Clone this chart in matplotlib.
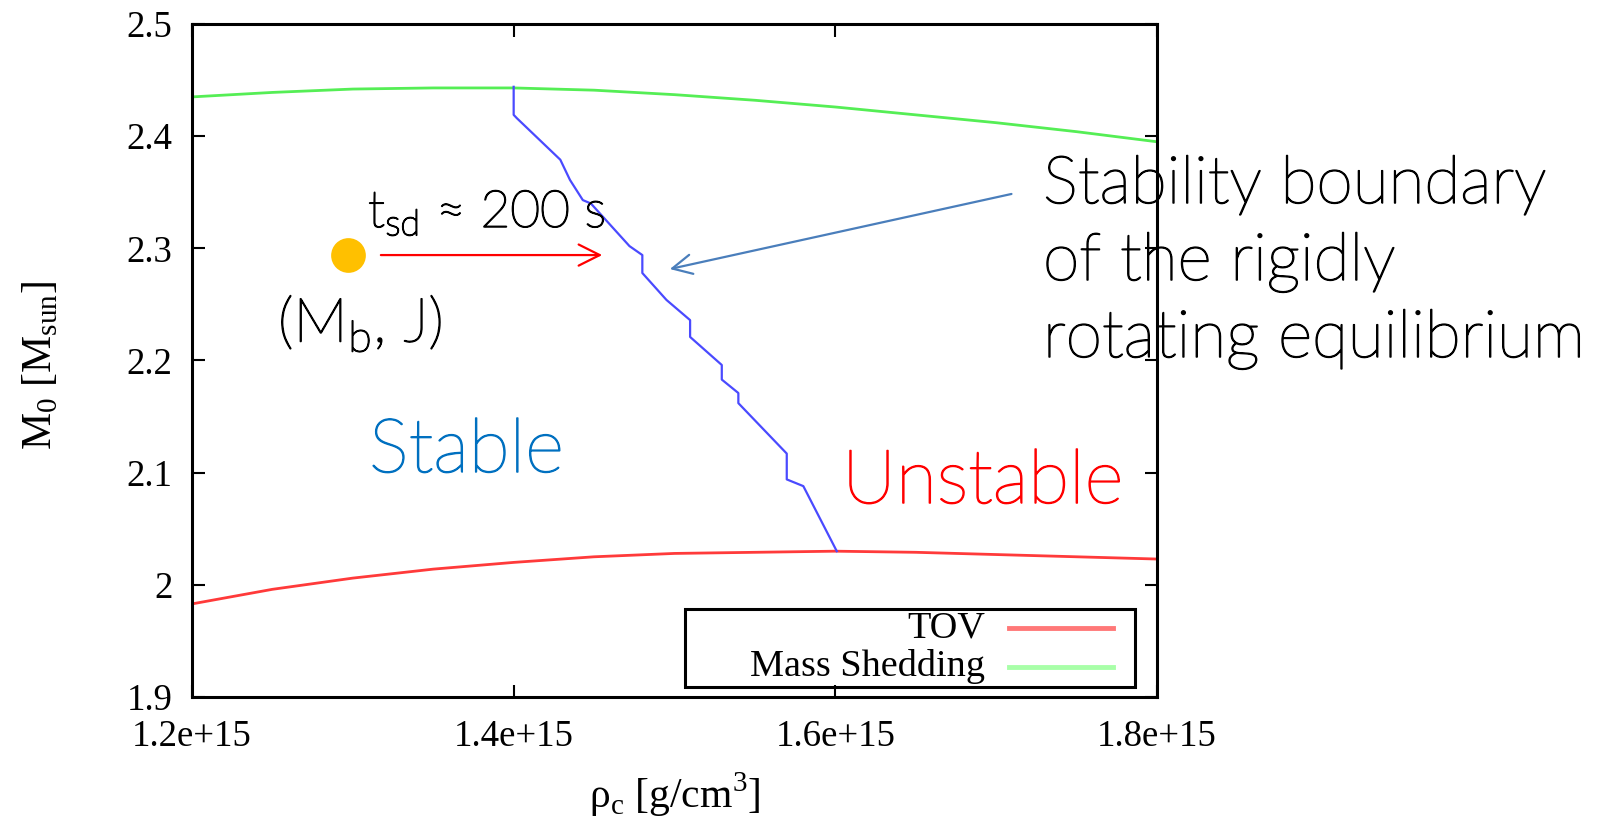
import numpy as np
import matplotlib
matplotlib.use("Agg")
import matplotlib.pyplot as plt
import matplotlib.patheffects as pe
from matplotlib.patches import Rectangle
from matplotlib.lines import Line2D

# central density in units of 1e15 g/cm^3
rho_curve = [1.20, 1.25, 1.30, 1.35, 1.40, 1.45, 1.50, 1.55, 1.60, 1.65, 1.70, 1.75, 1.80]
tov_mass = [1.983, 1.996, 2.006, 2.014, 2.020, 2.025, 2.028, 2.029, 2.030, 2.029, 2.027, 2.025, 2.023]
shed_mass = [2.435, 2.439, 2.442, 2.443, 2.443, 2.441, 2.437, 2.432, 2.426, 2.419, 2.412, 2.404, 2.395]

# stability boundary (stair-stepped curve)
rho_bound = [1.400, 1.400, 1.402, 1.429, 1.435, 1.443, 1.448, 1.472, 1.480, 1.480, 1.495,
             1.5097, 1.5097, 1.5294, 1.5294, 1.5397, 1.5397, 1.5698, 1.5698, 1.5801, 1.6009]
mass_bound = [2.444, 2.419, 2.416, 2.379, 2.361, 2.343, 2.340, 2.302, 2.294, 2.278, 2.254,
              2.236, 2.221, 2.196, 2.183, 2.171, 2.162, 2.117, 2.094, 2.088, 2.030]

xticks = [1.2, 1.4, 1.6, 1.8]
xtick_labels = ["1.2e+15", "1.4e+15", "1.6e+15", "1.8e+15"]
yticks = [1.9, 2.0, 2.1, 2.2, 2.3, 2.4, 2.5]
ytick_labels = ["1.9", "2", "2.1", "2.2", "2.3", "2.4", "2.5"]

# the star and its spin-down path
star_rho, star_mass = 1.297, 2.294
arrow_start, arrow_end = 1.3157, 1.4568
pointer_tail = (1.7112, 2.349)
pointer_head = (1.4954, 2.281)

E15 = 1e15
serif = "Liberation Serif"
sans = ["Lato", "DejaVu Sans"]

W, H = 1614, 822
fig = plt.figure(figsize=(W / 100, H / 100), dpi=100)
ax = fig.add_axes([192 / W, 1 - 697 / H, 965 / W, 673 / H])

ax.plot(np.array(rho_curve) * E15, tov_mass, color="#ff3a3a", lw=2.0)
ax.plot(np.array(rho_curve) * E15, shed_mass, color="#55ee55", lw=2.0)
ax.plot(np.array(rho_bound) * E15, mass_bound, color="#4a4aff", lw=1.6)

ax.set_xlim(1.2 * E15, 1.8 * E15)
ax.set_ylim(1.9, 2.5)
ax.set_xticks(np.array(xticks) * E15)
ax.set_xticklabels(xtick_labels, fontfamily=serif, fontsize=26.5)
ax.set_yticks(yticks)
ax.set_yticklabels(ytick_labels, fontfamily=serif, fontsize=26.5)
ax.tick_params(direction="in", length=9, width=1.5, top=True, right=True)
ax.tick_params(axis="x", pad=16)
ax.tick_params(axis="y", pad=14)
for s in ax.spines.values():
    s.set_linewidth(2.2)

ax.set_xlabel(r"ρ$_\mathregular{c}$ [g/cm$^\mathregular{3}$]", fontfamily=serif, fontsize=30, labelpad=12)
ax.set_ylabel(r"M$_\mathregular{0}$ [M$_\mathregular{sun}$]", fontfamily=serif, fontsize=30)
ax.yaxis.set_label_coords(-0.137, 0.493)

# gnuplot style key: label right aligned, then the sample line
ax.add_patch(Rectangle((685 / W, 1 - 687 / H), 450 / W, 78 / H, transform=fig.transFigure,
                       fill=False, lw=2.2, ec="black", zorder=5))
for label, col, yp in [("TOV", "#ff7878", 628), ("Mass Shedding", "#a8ffa8", 667)]:
    fig.text(985 / W, 1 - yp / H, label, ha="right", va="center", fontfamily=serif, fontsize=27.5)
    fig.add_artist(Line2D([1009 / W, 1113 / W], [1 - yp / H, 1 - yp / H], color=col, lw=3.5))

# annotations
ax.plot([star_rho * E15], [star_mass], "o", ms=25, color="#ffc000", mec="none", clip_on=False)
ax.annotate("", xy=(arrow_end * E15, star_mass), xytext=(arrow_start * E15, star_mass),
            arrowprops=dict(arrowstyle="->", color="red", lw=1.6, mutation_scale=38))
ax.annotate("", xy=(pointer_head[0] * E15, pointer_head[1]),
            xytext=(pointer_tail[0] * E15, pointer_tail[1]),
            arrowprops=dict(arrowstyle="->", color="#4a7ebb", lw=1.6, mutation_scale=35),
            annotation_clip=False)


def note(x, y, s, size, color="black"):
    t = fig.text(x / W, 1 - y / H, s, family=sans, fontweight="light", fontsize=size,
                 color=color, va="baseline")
    t.set_path_effects([pe.withStroke(linewidth=1.1, foreground=color)])
    return t


note(368, 227, r"t$_\mathregular{sd}$ ≈ 200 s", 37)
note(278, 342, r"(M$_\mathregular{b}$, J)", 44)
note(369, 472, "Stable", 54, "#0070c0")
note(842, 503, "Unstable", 54, "#ff0000")
for line, yb in [("Stability boundary", 203), ("of the rigidly", 280), ("rotating equilibrium", 357)]:
    note(1043, yb, line, 47.5)

fig.savefig("out.png", dpi=100)
